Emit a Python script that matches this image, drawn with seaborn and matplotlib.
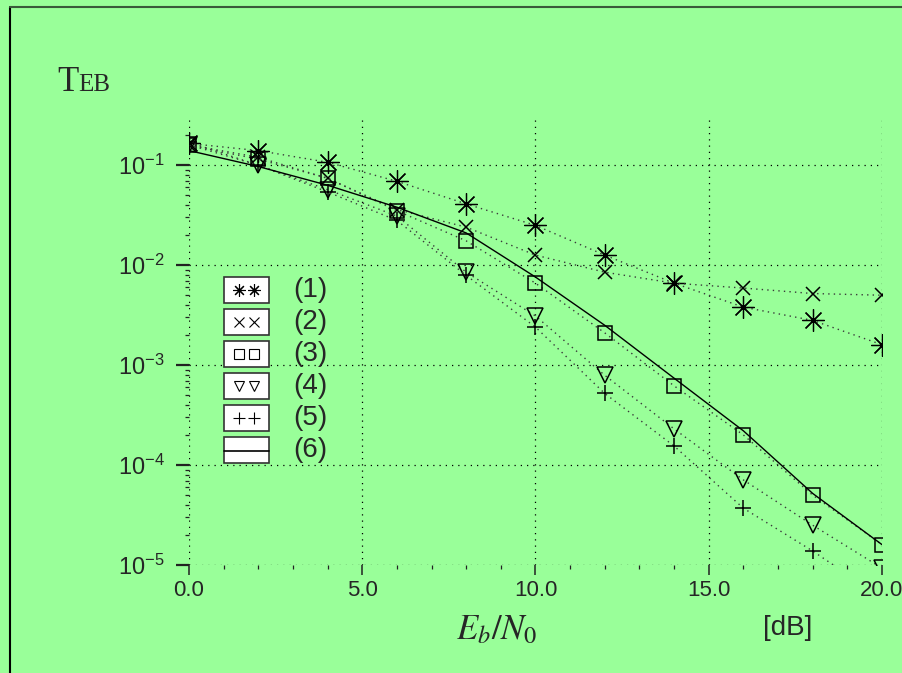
import matplotlib
matplotlib.use("Agg")
import matplotlib.pyplot as plt
import matplotlib.ticker as mticker
from matplotlib.lines import Line2D
from matplotlib.patches import Rectangle
import seaborn as sns

# Eb/N0 in dB
eb_n0 = [0, 2, 4, 6, 8, 10, 12, 14, 16, 18, 20]

# TEB curves
teb1 = [0.165, 0.14, 0.107, 0.069, 0.041, 0.025, 0.0126, 0.0066, 0.0038, 0.0028, 0.0016]
teb2 = [0.16, 0.12, 0.074, 0.036, 0.024, 0.0126, 0.0085, 0.0066, 0.0059, 0.0052, 0.005]
teb3 = [0.158, 0.115, 0.074, 0.035, 0.0175, 0.0066, 0.0021, 0.00062, 0.0002, 5e-5, 1.6e-5]
teb4 = [0.16, 0.1, 0.057, 0.031, 0.0085, 0.0031, 0.00079, 0.00023, 7.1e-5, 2.5e-5, 9.3e-6]
teb5 = [0.17, 0.1, 0.054, 0.028, 0.0079, 0.0024, 0.00052, 0.000155, 3.7e-5, 1.38e-5, 4.7e-6]
teb6 = [0.14, 0.097, 0.063, 0.038, 0.021, 0.0076, 0.0025, 0.00074, 0.00022, 5.2e-5, 1.6e-5]

labels = ["(1)", "(2)", "(3)", "(4)", "(5)", "(6)"]
xticks = [0, 5, 10, 15, 20]

bg = "#99ff99"
sns.set_theme(style="ticks", rc={"figure.facecolor": bg, "axes.facecolor": bg,
                                 "savefig.facecolor": bg})
plt.rcParams["font.family"] = ["Liberation Sans", "DejaVu Sans"]

fig = plt.figure(figsize=(9.03, 6.73), dpi=100)
ax = fig.add_axes([0.2093, 0.1605, 0.7674, 0.6627])

dots = (0, (1, 3))
series = [
    (teb1, (8, 2, 0), 16, 0.9),
    (teb2, "x", 10.5, 1.1),
    (teb3, "s", 10, 1.1),
    (teb4, "v", 11, 1.1),
    (teb5, "+", 11, 1.1),
]
for vals, mk, ms, mew in series:
    sns.lineplot(x=eb_n0, y=vals, ax=ax, color="#3a3a3a", linewidth=1.0,
                 linestyle=dots, marker=mk, markersize=ms,
                 markerfacecolor="none", markeredgecolor="black",
                 markeredgewidth=mew, sort=False)
# asterisks have a small dot in the middle
sns.lineplot(x=eb_n0, y=teb1, ax=ax, linestyle="none", marker="o", markersize=2.5,
             color="black", markeredgewidth=0, sort=False)
# theoretical curve, solid, no markers
sns.lineplot(x=eb_n0, y=teb6, ax=ax, color="black", linewidth=1.0, sort=False)

ax.set_yscale("log")
ax.set_xlim(0, 20)
ax.set_ylim(1e-5, 0.29)
ax.set_xticks(xticks)
ax.xaxis.set_major_formatter(mticker.FormatStrFormatter("%.1f"))
ax.xaxis.set_minor_locator(mticker.MultipleLocator(1))
ax.yaxis.set_major_locator(mticker.LogLocator(base=10, numticks=10))
ax.yaxis.set_minor_locator(mticker.LogLocator(base=10, subs=range(2, 10), numticks=20))
ax.yaxis.set_minor_formatter(mticker.NullFormatter())

for s in ax.spines.values():
    s.set_visible(False)
ax.grid(True, which="major", color="black", linestyle=(0, (1, 4)), linewidth=0.9)

ax.tick_params(axis="y", which="major", direction="out", length=9.5, width=1.6,
               labelsize=17, pad=8, color="#222222")
ax.tick_params(axis="y", which="minor", direction="out", length=3, width=0.9, color="#222222")
ax.tick_params(axis="x", which="major", direction="out", length=7.5, width=1.1,
               labelsize=16, pad=3, color="#222222")
ax.tick_params(axis="x", which="minor", direction="out", length=3, width=0.9, color="#222222")

# axis titles
fig.text(57 / 903, 1 - 91 / 673, "T", family="Liberation Serif", fontsize=25,
         va="baseline", ha="left")
fig.text(78 / 903, 1 - 91 / 673, "EB", family="Liberation Serif", fontsize=18,
         va="baseline", ha="left")
fig.text(497 / 903, 1 - 630 / 673, r"$E_b/N_0$", fontsize=25, math_fontfamily="stix",
         ha="center", va="center")
fig.text(788 / 903, 1 - 628 / 673, "[dB]", fontsize=20, ha="center", va="center")

# boxed legend
leg_markers = [(8, 2, 0), "x", "s", "v", "+", None]
leg_sizes = [9, 7, 6.5, 7, 8, 0]
for i, (lab, mk, ms) in enumerate(zip(labels, leg_markers, leg_sizes)):
    yc = 1 - (290 + 32 * i) / 673
    fig.add_artist(Rectangle((224 / 903, yc - 13 / 673), 45 / 903, 26 / 673,
                             transform=fig.transFigure, facecolor="white",
                             edgecolor="#333333", linewidth=1.2))
    if mk is None:
        fig.add_artist(Line2D([224 / 903, 269 / 903], [yc - 1 / 673, yc - 1 / 673],
                              transform=fig.transFigure, color="black", linewidth=1.2))
    else:
        fig.add_artist(Line2D([239 / 903, 254 / 903], [yc, yc], transform=fig.transFigure,
                              linestyle="none", marker=mk, markersize=ms,
                              markerfacecolor="none", markeredgecolor="black",
                              markeredgewidth=0.8))
    fig.text(293 / 903, yc, lab, fontsize=20, va="center", ha="left")

# outer frame
fig.add_artist(Line2D([10 / 903, 10 / 903], [0, 1 - 7 / 673], transform=fig.transFigure,
                      color="black", linewidth=1.5))
fig.add_artist(Line2D([10 / 903, 1], [1 - 7 / 673, 1 - 7 / 673], transform=fig.transFigure,
                      color="#3a5a3a", linewidth=1.5))

fig.savefig("out.png", dpi=100, facecolor=bg)
